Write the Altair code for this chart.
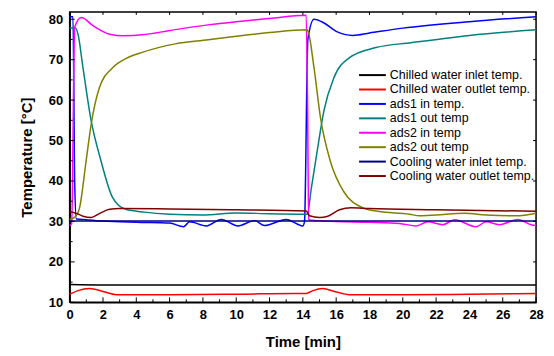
import altair as alt
import pandas as pd

series_names = ["\u00a0Chilled water inlet temp.", "Chilled water outlet temp.", "ads1 in temp.",
                "ads1 out temp", "ads2 in temp", "ads2 out temp",
                "Cooling water inlet temp.", "Cooling water outlet temp."]
series_colors = ["#000000", "#FF0000", "#0000FF", "#008080", "#FF00FF", "#808000", "#000080", "#800000"]

# Chilled water inlet
chi_in_t = [0, 2, 6, 10, 14, 18, 22, 26, 28]
chi_in_v = [14.4, 14.3, 14.3, 14.3, 14.3, 14.3, 14.3, 14.3, 14.3]
# Chilled water outlet
chi_out_t = [0, 0.5, 1.2, 2, 2.8, 6, 10, 13.5, 14.2, 14.6, 15.2, 15.9, 16.8, 20, 24, 28]
chi_out_v = [12.0, 12.9, 13.4, 12.7, 11.9, 11.9, 12.0, 12.2, 12.2, 12.9, 13.4, 12.7, 11.9, 11.9, 12.0, 12.2]
# ads1 in
a1in_t = [0, 0.2, 0.3, 0.4, 1, 2, 4, 6, 6.84, 7.2, 8.2, 9.1, 10.1, 11.1, 11.7, 13.0, 14.0, 14.1,
          14.3, 14.67, 15.3, 16, 17.0, 18, 20, 24, 28]
a1in_v = [80.6, 80.6, 40, 30.6, 30.4, 30.1, 29.8, 29.6, 28.7, 29.9, 28.9, 30.5, 28.9, 30.2, 29.0,
          30.5, 28.9, 30, 75, 80, 79, 77, 76, 76.6, 77.8, 79.4, 80.6]
# ads1 out
a1out_t = [0, 0.35, 0.5, 0.79, 1.29, 1.88, 2.58, 3.37, 4.5, 6, 8, 10, 12, 14.2, 14.27, 14.5,
           14.86, 15.26, 15.86, 16.8, 18.4, 20.5, 24, 28]
a1out_v = [77.8, 77.8, 76.3, 68.3, 54.9, 45, 35.9, 33, 32.3, 31.8, 31.6, 32.1, 31.9, 31.8, 31.8, 38,
           47.4, 57.3, 65.5, 70.5, 73, 74.2, 76, 77.4]
# ads2 in
a2in_t = [0, 0.12, 0.3, 0.7, 1.4, 2.4, 3.2, 4.5, 6, 8.3, 10, 12, 14.2, 14.28, 14.35, 14.5, 16, 18,
          19.8, 20.8, 21.5, 22.4, 23.1, 24.4, 25, 25.8, 26.9, 27.7, 28]
a2in_v = [29, 29.5, 78, 80.4, 78.4, 76.3, 75.9, 76.2, 77.2, 78.6, 79.4, 80.2, 81, 60, 30.5, 30.3,
          30.0, 29.8, 29.5, 28.9, 29.9, 29.2, 30.4, 28.7, 29.9, 29.2, 30.5, 29.2, 29.0]
# ads2 out
a2out_t = [0, 0.3, 0.59, 0.99, 1.29, 1.78, 2.58, 3.4, 4.36, 6.34, 8.32, 10, 12, 14.25, 14.3, 14.67,
           15.06, 15.65, 16.45, 17.64, 18.5, 20.4, 21, 22, 23.7, 25, 27, 28]
a2out_v = [30.5, 31, 33.3, 45, 54, 63, 68, 70.3, 71.8, 73.9, 74.9, 75.8, 76.7, 77.4, 77.2, 68,
           55.6, 44.9, 37.4, 33.3, 32.5, 31.8, 31.4, 31.6, 32, 31.6, 31.4, 32]
# Cooling water inlet
cw_in_t = [0, 7, 14, 21, 28]
cw_in_v = [30.1, 30.1, 30.1, 30.1, 30.1]
# Cooling water outlet
cw_out_t = [0, 0.4, 0.8, 1.29, 1.8, 2.4, 3, 6, 10, 14.2, 14.4, 15.0, 15.5, 16.2, 16.9, 18, 22, 28]
cw_out_v = [32.4, 32.0, 31.3, 31.0, 32.0, 33.0, 33.2, 33.1, 32.9, 32.6, 31.4, 31.0, 31.3, 32.9,
            33.4, 33.2, 32.9, 32.5]

x_major = list(range(0, 29, 2))
x_minor = list(range(1, 28, 2))
y_major = [10, 20, 30, 40, 50, 60, 70, 80]
y_minor = [15, 25, 35, 45, 55, 65, 75]

all_t = [chi_in_t, chi_out_t, a1in_t, a1out_t, a2in_t, a2out_t, cw_in_t, cw_out_t]
all_v = [chi_in_v, chi_out_v, a1in_v, a1out_v, a2in_v, a2out_v, cw_in_v, cw_out_v]
rows = []
for name, ts, vs in zip(series_names, all_t, all_v):
    for t, v in zip(ts, vs):
        rows.append({"series": name, "t": t, "v": v})
df = pd.DataFrame(rows)

W, H = 469, 292
FONT = "Liberation Sans"

xscale = alt.Scale(domain=[0, 28], nice=False, zero=False)
yscale = alt.Scale(domain=[10, 81.8], nice=False, zero=False)
xaxis = alt.Axis(values=x_major, format="d", labelPadding=6, titlePadding=13,
                 labelOverlap=False, labelFlush=False)
yaxis = alt.Axis(values=y_major, format="d", labelPadding=7, titlePadding=14,
                 labelOverlap=False, labelFlush=False)

lines = alt.Chart(df).mark_line(strokeWidth=1.5, interpolate="monotone").encode(
    x=alt.X("t:Q", scale=xscale, title="Time [min]", axis=xaxis),
    y=alt.Y("v:Q", scale=yscale, title="Temperature [°C]", axis=yaxis),
    color=alt.Color("series:N", sort=series_names,
                    scale=alt.Scale(domain=series_names, range=series_colors),
                    legend=alt.Legend(title=None, orient="none", legendX=297, legendY=56,
                                      symbolType="M-2.2,0H2.2", symbolSize=150, symbolStrokeWidth=2,
                                      labelFont=FONT, labelFontSize=12.5, labelColor="black",
                                      labelOffset=10, rowPadding=0.5, labelLimit=300)),
)

xmaj = pd.DataFrame({"t": x_major})
xmin = pd.DataFrame({"t": x_minor})
ymaj = pd.DataFrame({"v": y_major})
ymin = pd.DataFrame({"v": y_minor})

def xt(d, y1, y2):
    return alt.Chart(d).mark_rule(color="black", strokeWidth=1).encode(
        x=alt.X("t:Q", scale=xscale, title="Time [min]", axis=xaxis),
        y=alt.value(y1), y2=alt.value(y2))

def yt(d, x1, x2):
    return alt.Chart(d).mark_rule(color="black", strokeWidth=1).encode(
        y=alt.Y("v:Q", scale=yscale, title="Temperature [°C]", axis=yaxis),
        x=alt.value(x1), x2=alt.value(x2))

ticks = [
    xt(xmaj, H, H - 5), xt(xmin, H, H - 3), xt(xmaj, 0, 3),
    yt(ymaj, 0, 5), yt(ymin, 0, 3), yt(ymaj, W, W - 3),
]

chart = alt.layer(lines, *ticks).properties(
    width=W, height=H,
    autosize=alt.AutoSizeParams(type="none"),
    padding={"left": 62, "top": 3, "right": 10, "bottom": 50},
).configure_view(stroke="black", strokeWidth=1.5).configure_axis(
    grid=False, tickSize=0, domainColor="black", domainWidth=1.5,
    labelFont=FONT, labelFontSize=13, labelFontWeight="bold", labelColor="black",
    titleFont=FONT, titleFontSize=15, titleFontWeight="bold", titleColor="black",
    labelOverlap=False, labelFlush=False,
)

chart.save("out.html", embed_options={"renderer": "svg", "actions": False})
